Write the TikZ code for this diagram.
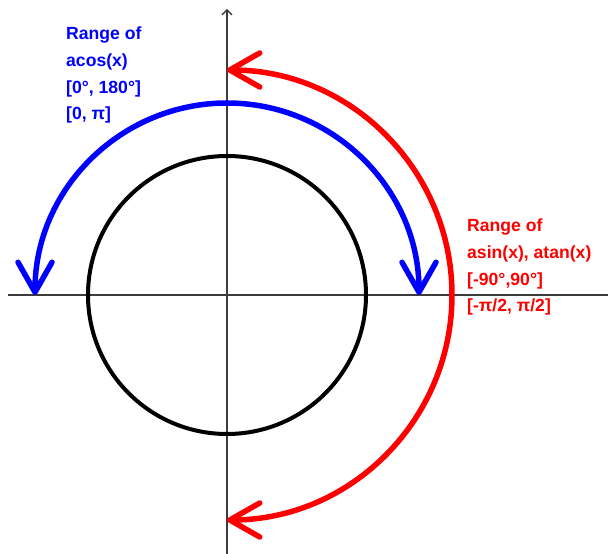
\documentclass[tikz,border=0pt]{standalone}
\usepackage{fontspec}
\setmainfont{Liberation Sans}
\usetikzlibrary{arrows.meta,calc}
\definecolor{axisgray}{RGB}{60,60,60}
\definecolor{myblue}{RGB}{0,0,255}
\definecolor{myred}{RGB}{255,0,0}
\tikzset{
  axisline/.style={draw=axisgray,line width=1.4pt},
  rangearc/.style={line width=5.5pt,{Straight Barb[length=30pt,width=34pt,round]}-{Straight Barb[length=30pt,width=34pt,round]}},
  lbl/.style={anchor=north west,inner sep=0pt,align=left,font=\fontsize{17.6}{26.6}\selectfont\bfseries}
}
\begin{document}
\begin{tikzpicture}[x=1pt,y=1pt]
\useasboundingbox (0,0) rectangle (608,554);
\coordinate (O) at (227,259);
\coordinate (xl) at (8,259);
\coordinate (xr) at (608,259);
\coordinate (yb) at (227,0);
\coordinate (yt) at (227,545);
\draw[axisline] (xl) -- (xr);
\draw[axisline,-{Straight Barb[length=5pt,width=10pt]}] (yb) -- (yt);
\draw[line width=4pt,black] (O) circle[radius=139];
\coordinate (bs) at ($(O)+(-192,0)$);
\draw[rangearc,draw=myblue] (bs) arc[start angle=180,end angle=0,radius=192];
\coordinate (rs) at ($(O)+(0,225)$);
\draw[rangearc,draw=myred] (rs) arc[start angle=90,end angle=-90,radius=225];
\node[lbl,text=myblue] (bt) at (66,527) {Range of\\acos(x)\\{}[0°, 180°]\\{}[0, π]};
\node[lbl,text=myred] (rt) at (467,335) {Range of\\asin(x), atan(x)\\{}[-90°,90°]\\{}[-π/2, π/2]};
\end{tikzpicture}
\end{document}
